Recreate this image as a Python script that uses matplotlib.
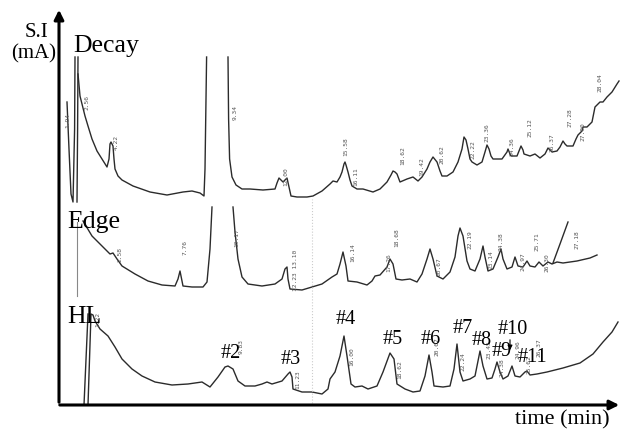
import numpy as np
import matplotlib.pyplot as plt

# chromatogram traces, (time min, signal) per pen stroke
decay_strokes = [
    [(2.05, 30.3), (2.15, 25.6), (2.25, 21.1), (2.35, 20.3), (2.43, 27.6), (2.45, 34.8)],
    [(2.55, 20.3), (2.58, 27.6), (2.6, 34.8)],
    [(2.6, 33.1), (2.7, 30.9), (2.8, 30.1), (2.95, 28.9), (3.1, 27.9), (3.3, 26.6), (3.55, 25.4),
     (3.8, 24.6), (4.05, 23.8), (4.15, 24.6), (4.2, 26.1), (4.25, 26.3), (4.35, 25.9), (4.4, 24.6),
     (4.45, 23.6), (4.6, 22.9), (4.8, 22.5), (5.35, 21.9), (6.2, 21.3), (7.05, 21.0), (7.85, 21.3),
     (8.3, 21.4), (8.7, 21.2), (8.9, 20.9), (8.95, 23.6), (9.0, 30.6), (9.03, 34.8)],
    [(10.1, 34.8), (10.13, 28.6), (10.18, 24.6), (10.3, 22.8), (10.5, 22.0), (10.8, 21.6),
     (11.2, 21.6), (11.85, 21.5), (12.45, 21.6), (12.55, 22.2), (12.65, 22.7), (12.75, 22.5),
     (12.85, 22.3), (12.95, 22.5), (13.05, 22.7), (13.15, 21.8), (13.25, 20.9), (13.55, 20.8),
     (14.05, 20.8), (14.35, 20.9), (14.8, 21.4), (15.2, 22.1), (15.35, 22.4), (15.55, 22.3),
     (15.7, 22.8), (15.8, 23.3), (15.9, 24.1), (15.95, 24.3), (16.0, 24.0), (16.1, 23.3),
     (16.2, 22.5), (16.3, 21.9), (16.55, 21.6), (16.85, 21.6), (17.35, 21.3), (17.7, 21.6),
     (18.05, 22.3), (18.25, 23.0), (18.35, 23.4), (18.45, 23.3), (18.55, 23.1), (18.7, 22.3),
     (19.05, 22.6), (19.35, 22.8), (19.6, 22.4), (19.8, 22.8), (20.05, 23.6), (20.2, 24.3),
     (20.35, 24.8), (20.55, 24.3), (20.7, 23.4), (20.8, 22.9), (21.05, 22.9), (21.35, 23.3),
     (21.6, 24.3), (21.8, 25.6), (21.9, 26.8), (22.0, 26.5), (22.1, 25.6), (22.2, 24.6),
     (22.3, 24.3), (22.55, 24.0), (22.8, 24.3), (22.95, 25.3), (23.05, 26.0), (23.15, 25.6),
     (23.25, 24.9), (23.35, 24.6), (23.8, 24.6), (24.05, 25.3), (24.1, 25.6), (24.2, 25.1),
     (24.25, 24.9), (24.55, 24.9), (24.75, 25.9), (24.85, 25.5), (24.9, 25.1), (25.2, 24.9),
     (25.45, 25.1), (25.7, 24.7), (25.95, 25.1), (26.1, 25.7), (26.3, 25.3), (26.55, 25.4),
     (26.7, 25.8), (26.85, 26.4), (26.95, 26.1), (27.05, 25.9), (27.35, 25.9), (27.5, 26.6),
     (27.6, 27.0), (27.8, 27.4), (27.85, 27.8), (28.05, 27.8), (28.3, 28.3), (28.45, 29.8),
     (28.7, 30.3), (28.85, 30.3), (29.05, 30.8), (29.3, 31.3), (29.55, 32.1), (29.65, 32.4)],
]

edge_strokes = [
    [(2.85, 18.4), (3.3, 16.9), (3.8, 15.9), (4.2, 15.1), (4.35, 15.2), (4.55, 14.6), (4.8, 13.9),
     (5.45, 13.1), (6.1, 12.4), (6.8, 12.0), (7.45, 11.9), (7.6, 12.6), (7.7, 13.4), (7.8, 12.4),
     (7.85, 11.9), (8.3, 11.8), (8.6, 11.8), (8.85, 11.8), (9.05, 12.3), (9.2, 15.6), (9.3, 19.8)],
    [(10.35, 19.8), (10.45, 17.3), (10.6, 14.6), (10.8, 12.8), (11.1, 12.1), (11.8, 11.9),
     (12.45, 12.1), (12.8, 12.6), (12.95, 13.6), (13.05, 13.8), (13.1, 12.6), (13.2, 11.6),
     (13.8, 11.5), (14.3, 11.8), (14.8, 12.1), (15.3, 12.8), (15.55, 13.1), (15.7, 14.1),
     (15.85, 15.3), (16.0, 13.9), (16.1, 12.4), (16.55, 12.3), (17.05, 12.0), (17.3, 12.4),
     (17.45, 12.9), (17.7, 13.0), (18.05, 13.8), (18.2, 14.6), (18.35, 14.1), (18.5, 12.6),
     (18.8, 12.5), (19.2, 12.6), (19.55, 12.3), (19.8, 13.1), (20.05, 14.6), (20.2, 15.6),
     (20.35, 14.6), (20.55, 12.9), (20.85, 12.6), (21.2, 13.3), (21.45, 14.8), (21.6, 16.9),
     (21.7, 17.7), (21.85, 16.9), (22.05, 14.4), (22.2, 13.6), (22.45, 13.4), (22.7, 14.6),
     (22.85, 15.9), (22.95, 14.8), (23.1, 13.4), (23.35, 13.6), (23.6, 14.8), (23.75, 15.6),
     (23.85, 14.6), (24.05, 13.6), (24.3, 13.8), (24.45, 14.8), (24.6, 13.9), (24.85, 13.8),
     (25.05, 14.4), (25.2, 13.9), (25.45, 13.8), (25.65, 14.3), (25.85, 13.9), (26.1, 14.3),
     (26.3, 14.1), (26.55, 14.3), (26.85, 14.2), (27.55, 14.4), (28.2, 14.7), (28.55, 15.0)],
    [(26.35, 14.2), (26.7, 16.1), (27.1, 18.3)],
]

hl_strokes = [
    [(2.9, 0.0), (3.1, 9.1)],
    [(3.1, 0.0), (3.25, 9.1), (3.35, 9.0), (3.45, 8.4), (3.7, 7.6), (4.1, 6.9), (4.45, 5.8),
     (4.8, 4.6), (5.3, 3.6), (5.8, 2.9), (6.45, 2.3), (7.3, 2.0), (8.1, 2.1), (8.8, 2.3),
     (9.2, 1.8), (9.6, 2.8), (9.95, 3.8), (10.1, 3.9), (10.35, 3.6), (10.6, 2.4), (10.95, 1.9),
     (11.45, 1.9), (11.8, 2.1), (12.05, 2.3), (12.3, 2.1), (12.8, 2.4), (13.1, 3.1), (13.2, 3.3),
     (13.3, 2.8), (13.35, 1.6), (13.8, 1.3), (14.3, 1.3), (14.8, 1.1), (15.1, 1.6), (15.2, 2.6),
     (15.45, 3.3), (15.7, 4.9), (15.9, 6.9), (16.05, 4.9), (16.25, 2.1), (16.45, 1.8),
     (16.8, 1.9), (17.1, 1.6), (17.55, 1.9), (17.85, 3.3), (18.2, 5.2), (18.4, 4.6),
     (18.55, 2.1), (18.95, 1.6), (19.35, 1.3), (19.7, 1.4), (19.95, 2.9), (20.15, 5.0),
     (20.3, 3.3), (20.4, 1.9), (20.85, 1.8), (21.2, 1.9), (21.4, 3.6), (21.55, 6.1), (21.7, 3.3),
     (21.85, 2.4), (22.2, 2.6), (22.45, 2.9), (22.6, 4.4), (22.7, 5.4), (22.85, 3.9),
     (23.05, 2.6), (23.3, 2.7), (23.45, 3.6), (23.55, 4.3), (23.7, 3.3), (23.85, 2.6),
     (24.1, 2.9), (24.3, 3.9), (24.45, 2.9), (24.7, 2.8), (24.95, 3.3), (25.05, 3.4),
     (25.2, 3.0), (25.55, 3.1), (26.05, 3.3), (26.85, 3.7), (27.7, 4.2), (28.35, 5.1),
     (28.85, 6.3), (29.3, 7.3), (29.6, 8.3)],
]

# retention time labels printed by the integrator: (time, signal, text)
decay_rt = [(2.1, 28.6, '1.94'), (3.05, 30.3, '2.56'), (4.5, 26.3, '4.22'), (10.45, 29.3, '9.34'),
            (13.0, 22.9, '12.00'), (16.0, 25.9, '15.58'), (16.5, 22.9, '16.11'),
            (18.85, 25.0, '18.62'), (19.8, 23.9, '19.42'), (20.8, 25.1, '20.62'),
            (22.35, 25.6, '22.22'), (23.05, 27.3, '23.36'), (24.3, 25.9, '24.36'),
            (25.2, 27.8, '25.12'), (26.3, 26.3, '26.37'), (27.2, 28.8, '27.28'),
            (27.85, 27.4, '27.90'), (28.7, 32.3, '28.04')]
edge_rt = [(4.7, 15.1, '2.58'), (7.95, 15.8, '7.76'), (10.55, 16.8, '10.17'),
           (13.5, 13.6, '12.23 13.10'), (16.35, 15.3, '16.14'), (18.15, 14.3, '17.26'),
           (18.55, 16.8, '18.68'), (20.65, 13.9, '20.67'), (22.2, 16.6, '22.19'),
           (23.25, 14.6, '23.14'), (23.75, 16.4, '24.38'), (24.85, 14.4, '24.97'),
           (25.55, 16.4, '25.71'), (26.05, 14.3, '26.30'), (27.55, 16.6, '27.18')]
hl_rt = [(3.6, 8.6, '1.22'), (10.75, 5.9, '9.83'), (13.6, 2.6, '11.23'), (16.3, 4.9, '16.00'),
         (18.7, 3.6, '18.62'), (20.55, 5.9, '20.67'), (21.85, 4.4, '22.24'),
         (23.15, 5.6, '23.45'), (23.8, 3.8, '24.38'), (24.6, 5.6, '24.96'),
         (25.15, 4.1, '25.62'), (25.65, 5.8, '26.37')]

# numbered peaks on the HL trace
peak_names = ['#2', '#3', '#4', '#5', '#6', '#7', '#8', '#9', '#10', '#11']
peak_pos = [(10.25, 5.2), (13.25, 4.6), (16.0, 8.6), (18.35, 6.6), (20.25, 6.6),
            (21.85, 7.7), (22.8, 6.5), (23.8, 5.4), (24.35, 7.6), (25.3, 4.8)]

serif = 'Liberation Serif'
ink = '#2b2b2b'

fig = plt.figure(figsize=(6.23, 4.35), dpi=100)
ax = fig.add_axes([0, 0, 1, 1])
ax.set_xlim(-1.3, 29.85)
ax.set_ylim(-2.9, 40.6)
ax.axis('off')

for strokes in (decay_strokes, edge_strokes, hl_strokes):
    for s in strokes:
        arr = np.array(s)
        ax.plot(arr[:, 0], arr[:, 1], color=ink, lw=1.0)

# scale bar and dotted guide left on the chart paper
ax.plot([2.55, 2.55], [10.9, 18.3], color='#888888', lw=0.8)
ax.plot([14.3, 14.3], [0.2, 20.6], color='#cccccc', lw=0.8, ls=':')

for lst in (decay_rt, edge_rt, hl_rt):
    for x, y, txt in lst:
        ax.text(x, y, txt, rotation=90, fontsize=4.5, color='#555555',
                ha='center', va='center', family='DejaVu Sans Mono')

ax.text(2.35, 35.4, 'Decay', family=serif, fontsize=18.5, ha='left', va='baseline')
ax.text(2.05, 17.8, 'Edge', family=serif, fontsize=18.5, ha='left', va='baseline')
ax.text(2.05, 8.3, 'HL', family=serif, fontsize=18.5, ha='left', va='baseline')

for name, (x, y) in zip(peak_names, peak_pos):
    ax.text(x, y, name, family=serif, fontsize=14.5, ha='center', va='center')
ax.annotate('', xy=(24.2, 5.2), xytext=(24.2, 6.8),
            arrowprops=dict(arrowstyle='-|>', lw=0.8, color='black', mutation_scale=7))

# axes with arrow heads
ax.annotate('', xy=(1.65, 39.8), xytext=(1.65, 0),
            arrowprops=dict(arrowstyle='-|>', lw=2.2, color='black', mutation_scale=14))
ax.annotate('', xy=(29.8, 0), xytext=(1.55, 0),
            arrowprops=dict(arrowstyle='-|>', lw=2.2, color='black', mutation_scale=14))

ax.text(0.55, 36.9, 'S.I', family=serif, fontsize=15, ha='center', va='baseline')
ax.text(0.4, 35.2, '(mA)', family=serif, fontsize=15, ha='center', va='center')
ax.text(26.8, -1.4, 'time (min)', family=serif, fontsize=16, ha='center', va='center')

fig.savefig('out.png', dpi=100)
